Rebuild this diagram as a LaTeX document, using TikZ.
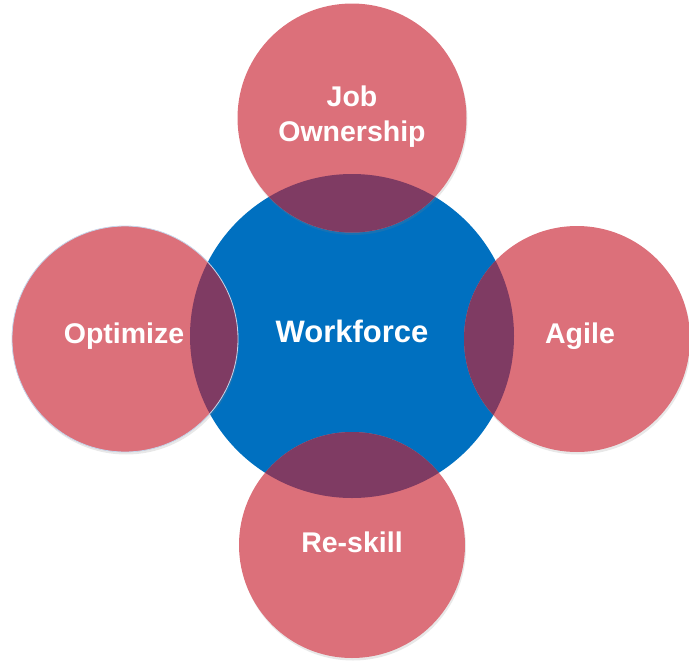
\documentclass[tikz,border=0pt]{standalone}
\usepackage{fontspec}
\setmainfont{Liberation Sans}
\usetikzlibrary{shadows}
\definecolor{pinkc}{RGB}{220,112,122}
\definecolor{darkc}{RGB}{127,59,99}
\definecolor{bluec}{RGB}{0,112,192}
\definecolor{rimc}{RGB}{197,213,234}
\begin{document}
\begin{tikzpicture}[x=1pt,y=-1pt,
  hub/.style={circle, fill=bluec, minimum size=324pt, inner sep=0pt, text=white,
    font=\bfseries\fontsize{31}{34}\selectfont},
  petal/.style={circle, fill=pinkc, minimum size=#1, inner sep=0pt, text=white,
    align=center, font=\bfseries\fontsize{28.5}{35}\selectfont,
    drop shadow={opacity=0.18, shadow xshift=1pt, shadow yshift=-2.5pt},
    path picture={\fill[darkc] (hub.center) circle [radius=162pt];}},
  petal/.default=226pt]
\useasboundingbox (0,0) rectangle (689,662);
\node[hub] (hub) at (352,336) {};
\node[petal=229pt] (top) at (352,118) {};
\node[petal] (left) at (125,339) {};
\draw[rimc, line width=0.8pt] (left) circle [radius=113pt];
\node[petal] (right) at (577,339) {};
\node[petal] (bottom) at (352,545) {};
\node[text=white, font=\bfseries\fontsize{31}{34}\selectfont] (hubt) at (352,331) {Workforce};
\node[text=white, align=center, font=\bfseries\fontsize{28.5}{35}\selectfont] (topt) at (352,117) {Job\\Ownership};
\node[text=white, font=\bfseries\fontsize{28.5}{35}\selectfont] (leftt) at (124,336) {Optimize};
\node[text=white, font=\bfseries\fontsize{28.5}{35}\selectfont] (rightt) at (580,336) {Agile};
\node[text=white, font=\bfseries\fontsize{28.5}{35}\selectfont] (bottomt) at (352,542) {Re-skill};
\end{tikzpicture}
\end{document}
